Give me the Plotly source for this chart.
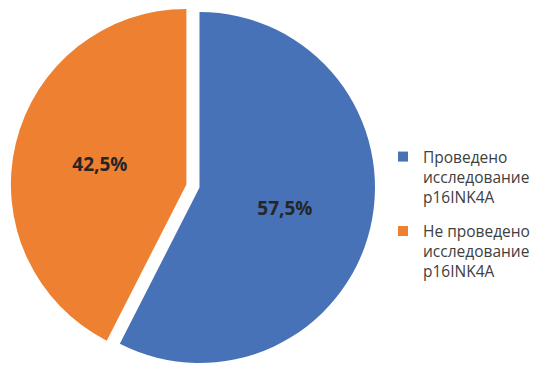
import plotly.graph_objects as go

# Data
labels = ["Проведено исследование p16INK4A", "Не проведено исследование p16INK4A"]
legend_labels = ["Проведено<br>исследование<br>p16INK4A", "Не проведено<br>исследование<br>p16INK4A"]
values = [57.5, 42.5]
colors = ["#4872B8", "#EE8032"]
TRANSP = "rgba(0,0,0,0)"

W, H = 533, 366

def dom(cx, cy, r):
    # cx, cy in pixels from top-left
    return dict(x=[(cx - r) / W, (cx + r) / W], y=[1 - (cy + r) / H, 1 - (cy - r) / H])

R = 175.5
common = dict(
    labels=labels, values=values, sort=False, direction="clockwise", rotation=0,
    textinfo="none", showlegend=False, hoverinfo="label+percent",
    textfont=dict(family="Open Sans", size=19, color="#262626", weight="bold"),
    insidetextorientation="horizontal",
)

fig = go.Figure()
# blue slice (in place)
fig.add_trace(go.Pie(
    **common,
    marker=dict(colors=[colors[0], TRANSP], line=dict(width=0)),
    texttemplate=["%{percent:.1%}", ""], textposition=["inside", "none"],
    domain=dom(199.5, 187.5, R),
))
# orange slice (exploded)
fig.add_trace(go.Pie(
    **common,
    marker=dict(colors=[TRANSP, colors[1]], line=dict(width=0)),
    texttemplate=["", "%{percent:.1%}"], textposition=["none", "inside"],
    domain=dom(186.4, 184.4, R),
))
# legend entries
for i, (lab, col) in enumerate(zip(legend_labels, colors)):
    fig.add_trace(go.Scatter(
        x=[None], y=[None], mode="markers", name=lab, legendgroup=f"g{i}",
        marker=dict(symbol="square", size=10, color=col), hoverinfo="skip",
    ))

fig.update_layout(
    width=W, height=H, margin=dict(l=0, r=0, t=0, b=0, autoexpand=False),
    paper_bgcolor="white", plot_bgcolor="white",
    separators=", ",
    xaxis=dict(visible=False), yaxis=dict(visible=False),
    legend=dict(x=383 / W, xanchor="left", y=1 - 140 / H, yanchor="top",
                valign="top", traceorder="grouped", tracegroupgap=11,
                font=dict(family="Open Sans", size=15.5, color="#404040"),
                bgcolor="rgba(0,0,0,0)"),
)
fig.write_html("out.html")
